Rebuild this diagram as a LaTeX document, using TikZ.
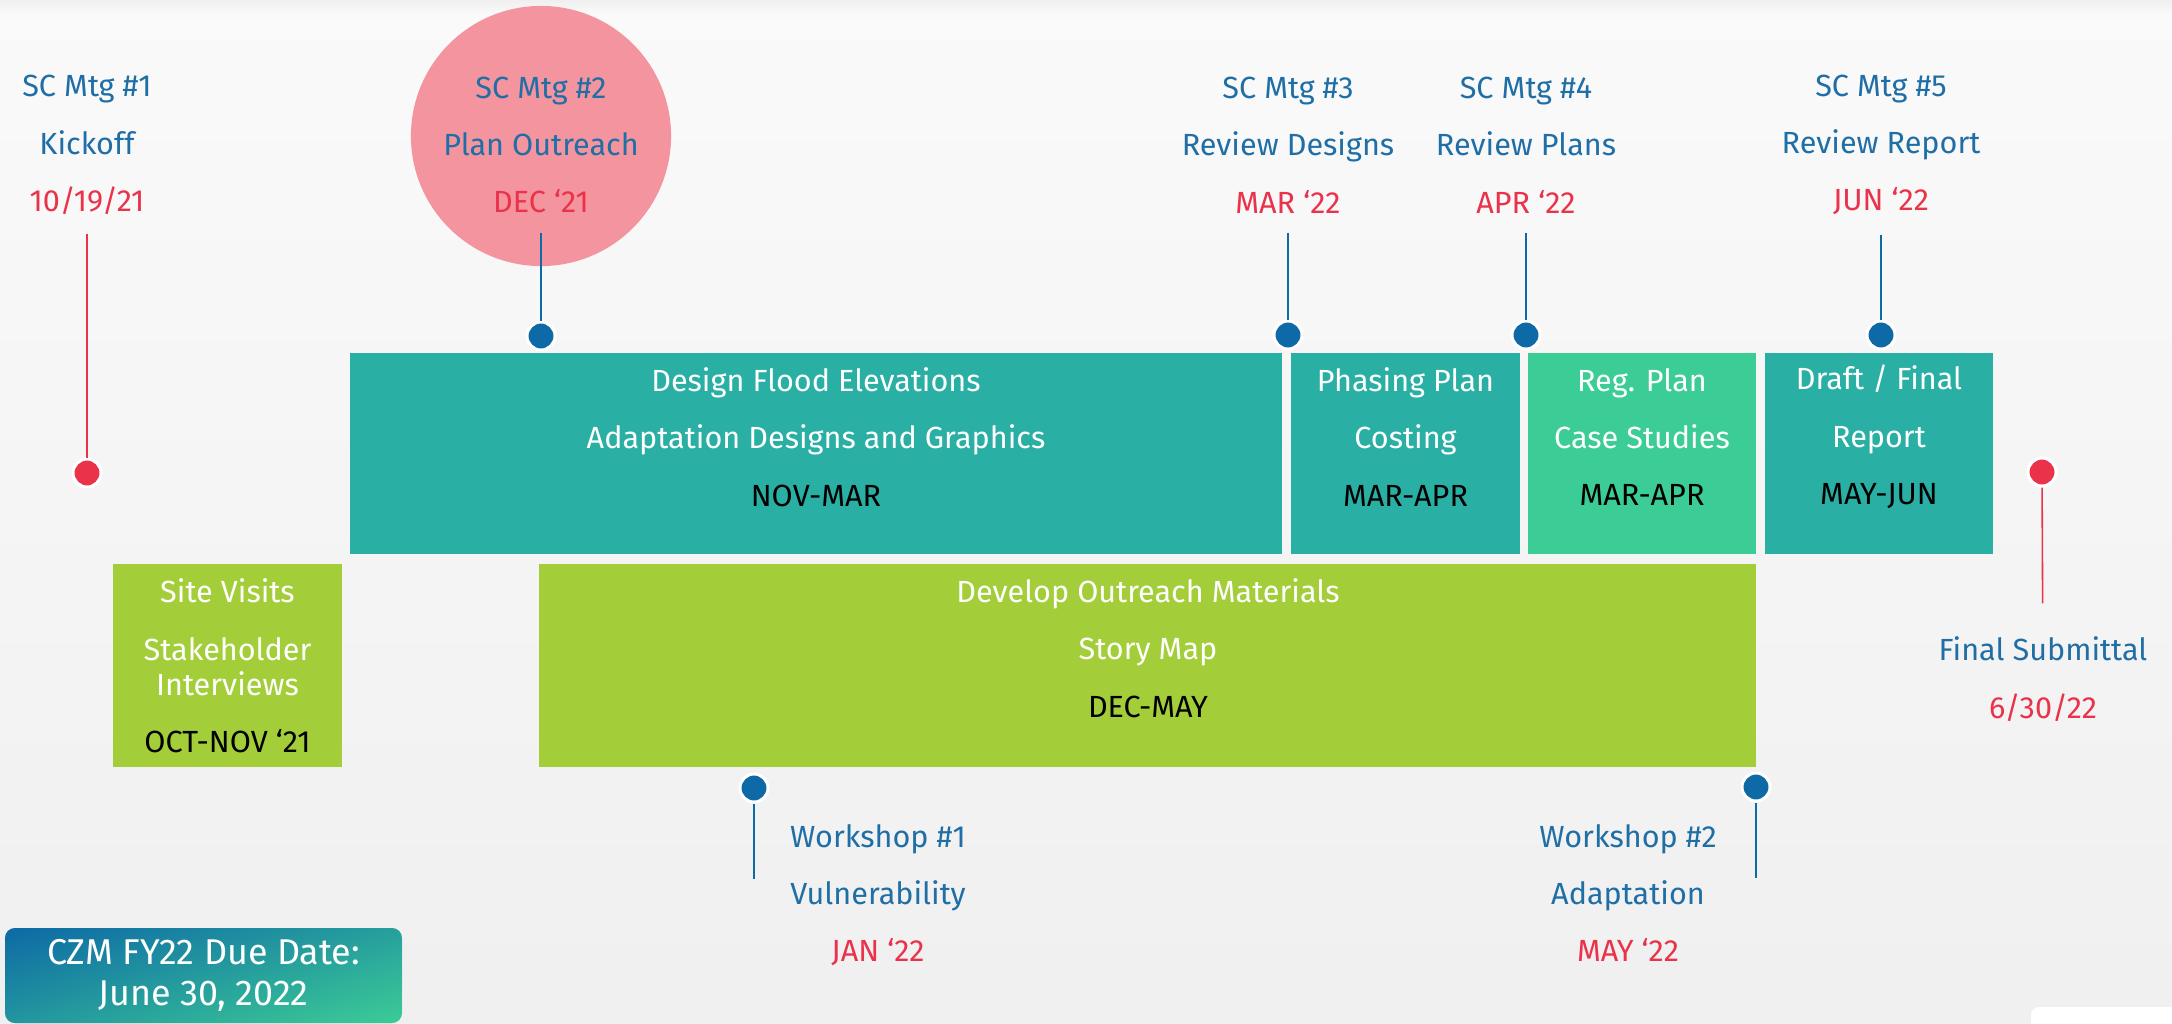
\documentclass[tikz,border=0pt]{standalone}
\usepackage{fontspec}
\setmainfont{Fira Sans}

\definecolor{scblue}{RGB}{31,111,166}
\definecolor{dotblue}{RGB}{14,106,166}
\definecolor{datered}{RGB}{234,51,74}
\definecolor{taskteal}{RGB}{42,175,164}
\definecolor{taskmint}{RGB}{60,204,150}
\definecolor{tasklime}{RGB}{163,206,57}
\definecolor{mtgpink}{RGB}{244,148,158}

\newcommand{\when}[1]{\textcolor{datered}{#1}}
\newcommand{\dates}[1]{\textcolor{black}{#1}}

\begin{document}
\begin{tikzpicture}[x=0.01cm, y=-0.01cm,
  every node/.style={font=\fontsize{8.7}{16.3}\selectfont, align=center},
  mtglabel/.style={text=scblue},
  taskbox/.style={fill=#1, inner sep=0, minimum height=2.01cm},
  tasktext/.style={text=white},
  bluedot/.style={circle, fill=dotblue, draw=white, line width=0.85pt, minimum size=0.28cm, inner sep=0},
  reddot/.style={bluedot, fill=datered},
  blueline/.style={dotblue, line width=0.6pt, shorten <=2pt},
  redline/.style={datered, line width=0.45pt, shorten <=2pt}]
\useasboundingbox (0,0) rectangle (2172,1024);

% Background
\shade[top color=black!2, bottom color=black!6] (0,0) rectangle (2172,1024);
\shade[top color=black!6, bottom color=black!2] (0,0) rectangle (2172,14);
\fill[white, rounded corners=0.08cm] (2031,1007) rectangle (2200,1040);

% Steering committee meetings
\node[circle, fill=mtgpink, minimum size=2.6cm] (focus) at (541,136) {};
\node[mtglabel] (mtg1) at (87,145) {SC Mtg \#1\\Kickoff\\\when{10/19/21}};
\node[mtglabel] (mtg2) at (541,145) {SC Mtg \#2\\Plan Outreach\\\when{DEC ‘21}};
\node[mtglabel] (mtg3) at (1288,145) {SC Mtg \#3\\Review Designs\\\when{MAR ‘22}};
\node[mtglabel] (mtg4) at (1526,145) {SC Mtg \#4\\Review Plans\\\when{APR ‘22}};
\node[mtglabel] (mtg5) at (1881,145) {SC Mtg \#5\\Review Report\\\when{JUN ‘22}};

% Top row of tasks
\node[taskbox=taskteal, minimum width=9.32cm] (design) at (816,453.5) {};
\node[taskbox=taskteal, minimum width=2.29cm] (phasing) at (1405.5,453.5) {};
\node[taskbox=taskmint, minimum width=2.28cm] (regplan) at (1642,453.5) {};
\node[taskbox=taskteal, minimum width=2.28cm] (report) at (1879,453.5) {};
\node[tasktext] (designtxt) at (816,437) {Design Flood Elevations\\Adaptation Designs and Graphics\\\dates{NOV-MAR}};
\node[tasktext] (phasingtxt) at (1405.5,437) {Phasing Plan\\Costing\\\dates{MAR-APR}};
\node[tasktext] (regplantxt) at (1642,437) {Reg. Plan\\Case Studies\\\dates{MAR-APR}};
\node[tasktext] (reporttxt) at (1879,437) {Draft / Final\\Report\\\dates{MAY-JUN}};

% Bottom row of tasks
\node[taskbox=tasklime, minimum width=2.29cm, minimum height=2.03cm] (site) at (227.5,665.5) {};
\node[taskbox=tasklime, minimum width=12.17cm, minimum height=2.03cm] (outreach) at (1147.5,665.5) {};
\node[tasktext] (sitetxt) at (227.5,666) {Site Visits\\Stakeholder\\[-6.3pt]Interviews\\\dates{OCT-NOV ‘21}};
\node[tasktext] (outreachtxt) at (1148,648) {Develop Outreach Materials\\Story Map\\\dates{DEC-MAY}};

% Milestone dots and stems
\node[reddot] (kick) at (87,473) {};
\node[bluedot] (m2) at (541,336) {};
\node[bluedot] (m3) at (1288,335) {};
\node[bluedot] (m4) at (1526,335) {};
\node[bluedot] (m5) at (1881,335) {};
\draw[redline] (mtg1) -- (kick);
\draw[blueline] (mtg2) -- (m2);
\draw[blueline] (mtg3) -- (m3);
\draw[blueline] (mtg4) -- (m4);
\draw[blueline] (mtg5) -- (m5);

% Workshops
\node[bluedot] (ws1) at (754,788) {};
\node[bluedot] (ws2) at (1756,787) {};
\coordinate (ws1end) at (754,879);
\coordinate (ws2end) at (1756,878);
\draw[blueline, shorten <=0pt] (ws1) -- (ws1end);
\draw[blueline, shorten <=0pt] (ws2) -- (ws2end);
\node[mtglabel] (ws1txt) at (878,895) {Workshop \#1\\Vulnerability\\\when{JAN ‘22}};
\node[mtglabel] (ws2txt) at (1628,893) {Workshop \#2\\Adaptation\\\when{MAY ‘22}};

% Final submittal
\node[reddot] (final) at (2042,472) {};
\node[mtglabel] (finaltxt) at (2043,679) {Final Submittal\\\when{6/30/22}};
\draw[redline, shorten <=0pt, shorten >=6pt] (final) -- (finaltxt);

% Due date
\shade[left color=dotblue, right color=taskmint, rounded corners=0.1cm] (5,928) rectangle (402,1023);
\shade[top color=dotblue, bottom color=taskmint, fill opacity=0.45, rounded corners=0.1cm] (5,928) rectangle (402,1023);
\node[text=white, font=\fontsize{10.2}{11.5}\selectfont] (due) at (203.5,975.5) {CZM FY22 Due Date:\\June 30, 2022};
\end{tikzpicture}
\end{document}
